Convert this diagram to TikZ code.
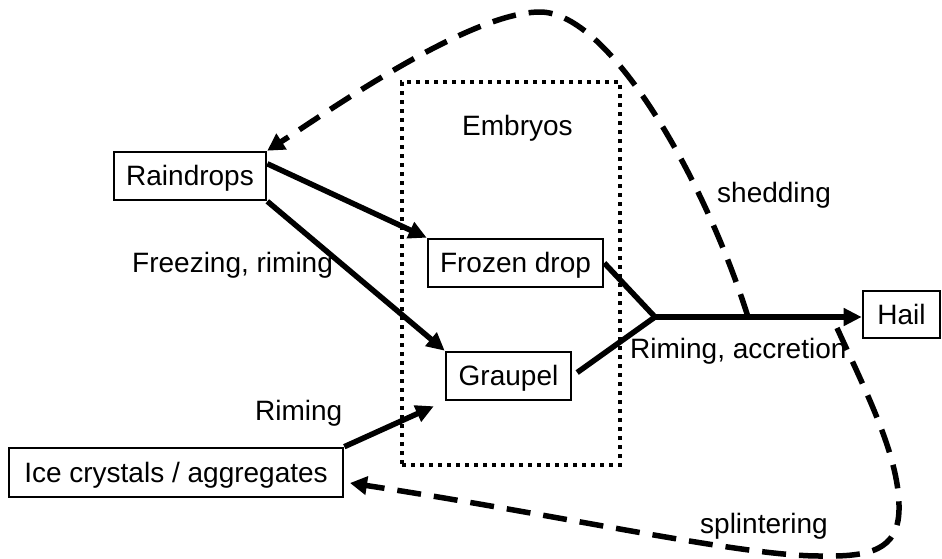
\documentclass[tikz,border=0pt]{standalone}
\usepackage{fontspec}
\setmainfont{Liberation Sans}
\usetikzlibrary{arrows.meta,calc}
\begin{document}
\begin{tikzpicture}[x=1pt,y=-1pt,
 every node/.style={font=\fontsize{28}{33}\selectfont},
 box/.style={draw, line width=2.6pt, inner sep=0pt, text height=19.6pt, text depth=0pt, minimum height=48pt},
 flow/.style={line width=5.5pt, -{Triangle[length=18pt,width=17pt]}},
 flowline/.style={line width=5.5pt},
 loopline/.style={line width=5.5pt, dash pattern=on 24pt off 13pt, -{Triangle[length=17pt,width=18pt]}},
 embbox/.style={draw, line width=3.5pt, dash pattern=on 4pt off 5pt, inner sep=0pt},
 lbl/.style={anchor=base west, inner sep=0pt}]
\useasboundingbox (0,0) rectangle (942,558);

\node[embbox, minimum width=218pt, minimum height=383pt] (emb) at (511,273.5) {};
\node[box, minimum width=152pt] (rain) at (190,176) {Raindrops};
\node[box, minimum width=175pt] (frozen) at (515.5,263) {Frozen drop};
\node[box, minimum width=125pt] (graupel) at (508.5,376) {Graupel};
\node[box, minimum width=334pt, minimum height=49pt] (ice) at (176,472.5) {Ice crystals / aggregates};
\node[box, minimum width=77pt, minimum height=47pt] (hail) at (901.5,314.5) {Hail};

\node[lbl] (tEmb) at (462,135) {Embryos};
\node[lbl] (tFR) at (132,272) {Freezing, riming};
\node[lbl] (tRim) at (255,420) {Riming};
\node[lbl] (tRA) at (630,358) {Riming, accretion};
\node[lbl] (tShed) at (717,202) {shedding};
\node[lbl] (tSpl) at (700,533) {splintering};

\coordinate (J) at (655,317);
\coordinate (shed) at (748,317);
\coordinate (spl) at (837,328);
\coordinate (icetip) at (350,483);

\draw[flow] (rain.9) -- (frozen.north west);
\draw[flow] (rain.south east) -- (graupel.north west);
\draw[flow, shorten >=12pt] (ice.north east) -- (graupel.south west);
\draw[flowline] (frozen.east) -- (J);
\draw[flowline, shorten <=6pt] (graupel.east) -- (J);
\draw[flow] (J) -- (J -| hail.west);
\draw[loopline] (shed) .. controls (705,180) and (610,12) .. (540,12) .. controls (470,12) and (330,110) .. (rain.north east);
\draw[loopline] (spl) .. controls (870,400) and (900,460) .. (899,510) .. controls (898,550) and (870,557) .. (820,556) .. controls (740,556) and (560,515) .. (icetip);
\end{tikzpicture}
\end{document}
